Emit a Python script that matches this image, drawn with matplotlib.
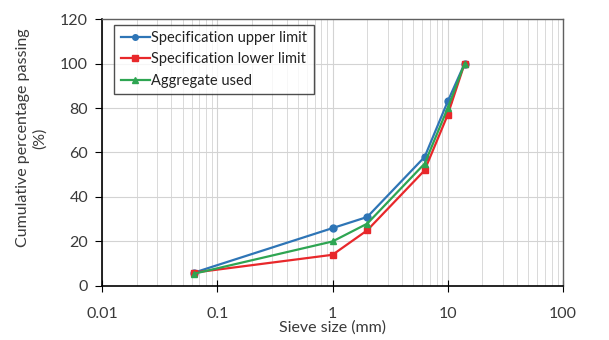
import matplotlib
matplotlib.use("Agg")
import matplotlib.pyplot as plt
from matplotlib.ticker import LogLocator, NullFormatter

sieve = [0.063, 1.0, 2.0, 6.3, 10.0, 14.0]
upper = [6, 26, 31, 58, 83, 100]
lower = [6, 14, 25, 52, 77, 100]
aggregate = [5.5, 20, 28, 55, 80, 100]
xticks = [0.01, 0.1, 1, 10, 100]
xticklabels = ["0.01", "0.1", "1", "10", "100"]
yticks = [0, 20, 40, 60, 80, 100, 120]

plt.rcParams['font.family'] = ['Lato', 'DejaVu Sans']
TXT = '#3A3A3A'

fig = plt.figure(figsize=(6.09, 3.40), dpi=100)
ax = fig.add_axes([0.1675, 0.159, 0.757, 0.785])

ax.plot(sieve, upper, color='#2E75B6', marker='o', markersize=5, lw=1.6, label='Specification upper limit')
ax.plot(sieve, lower, color='#E8282B', marker='s', markersize=5, lw=1.6, label='Specification lower limit')
ax.plot(sieve, aggregate, color='#2EA552', marker='^', markersize=5, lw=1.6, label='Aggregate used')

ax.set_xscale('log')
ax.set_xlim(0.01, 100)
ax.set_ylim(0, 120)
ax.set_xticks(xticks)
ax.set_xticklabels(xticklabels)
ax.xaxis.set_minor_locator(LogLocator(base=10, subs=range(2, 10)))
ax.xaxis.set_minor_formatter(NullFormatter())
ax.set_yticks(yticks)

ax.grid(True, which='major', color='#D3D3D3', lw=0.8)
ax.grid(True, which='minor', axis='x', color='#D3D3D3', lw=0.6)
ax.set_axisbelow(True)

ax.tick_params(axis='both', which='major', labelsize=11.5, labelcolor=TXT, color='black')
ax.tick_params(axis='x', which='major', direction='inout', length=8, pad=11)
ax.tick_params(axis='y', which='major', direction='out', length=5, pad=5)
ax.tick_params(axis='x', which='minor', length=0)
for s in ['left', 'bottom']:
    ax.spines[s].set_color('black')
    ax.spines[s].set_linewidth(1.2)
for s in ['top', 'right']:
    ax.spines[s].set_color('#606060')
    ax.spines[s].set_linewidth(1.0)

ax.set_xlabel('Sieve size (mm)', fontsize=11.5, color=TXT, labelpad=0)
ax.set_ylabel('Cumulative percentage passing\n(%)', fontsize=11.5, color=TXT, linespacing=1.2)
ax.yaxis.set_label_coords(-0.12, 0.554)

leg = ax.legend(loc='upper left', bbox_to_anchor=(0.02, 0.99), fontsize=10.5, frameon=True,
                fancybox=False, edgecolor='#222222', handlelength=2.0, handletextpad=0.1,
                borderpad=0.45, labelspacing=0.5, markerscale=0.8, borderaxespad=0.2)
for t in leg.get_texts():
    t.set_color('#222222')
leg.get_frame().set_linewidth(1.0)

fig.savefig('out.png', dpi=100)
